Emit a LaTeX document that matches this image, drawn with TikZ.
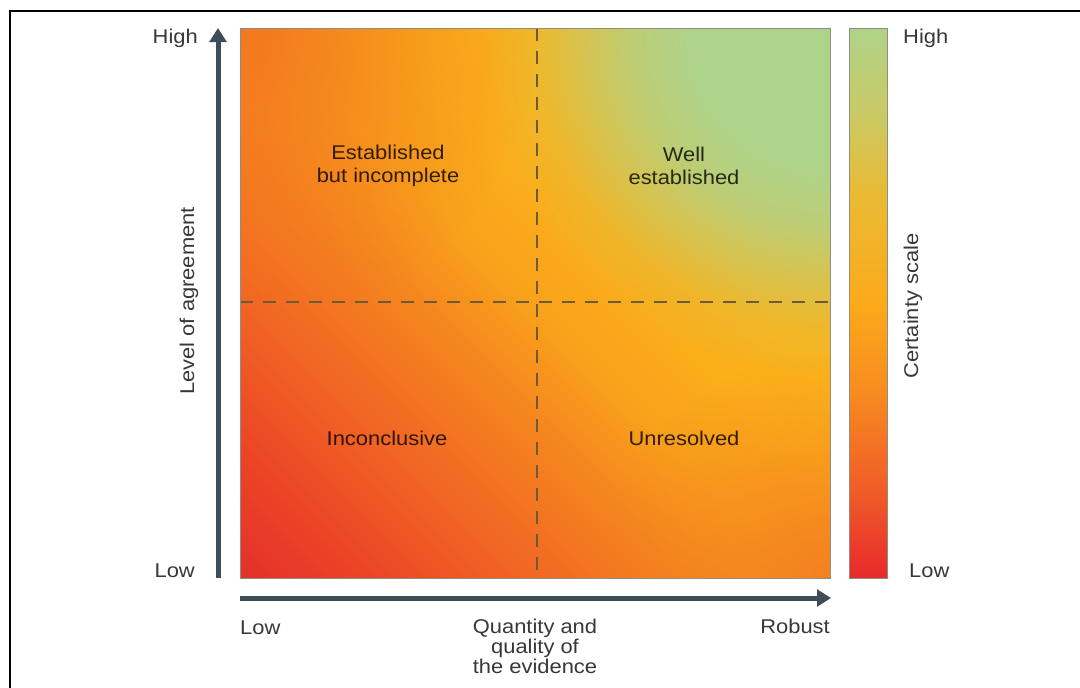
\documentclass[tikz,border=0pt]{standalone}
\usepackage{fontspec}
\setmainfont{Liberation Sans}[FakeStretch=1.1]
\usetikzlibrary{arrows.meta,fadings}
\definecolor{g0}{HTML}{E5302B}
\definecolor{g1}{HTML}{EC4626}
\definecolor{g2}{HTML}{F16624}
\definecolor{g3}{HTML}{F5821F}
\definecolor{g4}{HTML}{F9A21B}
\definecolor{g5}{HTML}{FBAE1A}
\definecolor{g6}{HTML}{FBB41A}
\definecolor{cgreen}{HTML}{AED48C}
\definecolor{corA}{HTML}{F37620}
\definecolor{corB}{HTML}{F47E21}
\definecolor{b0}{HTML}{E8292B}
\definecolor{b1}{HTML}{F05A28}
\definecolor{b2}{HTML}{F88E1F}
\definecolor{b3}{HTML}{FBAA1A}
\definecolor{b4}{HTML}{E9BB35}
\definecolor{b5}{HTML}{C8CA66}
\definecolor{b6}{HTML}{B0D38A}
\definecolor{axiscol}{HTML}{3D4D5A}
\definecolor{labcol}{HTML}{383838}
\definecolor{dashcol}{HTML}{6E5A3A}
\definecolor{edgecol}{HTML}{8E8E82}
\pgfdeclarehorizontalshading{diagshade}{100bp}{color(0bp)=(g0); color(14.64bp)=(g0); color(23.13bp)=(g1); color(32.32bp)=(g2); color(41.51bp)=(g3); color(50bp)=(g4); color(57.07bp)=(g5); color(64.14bp)=(g6); color(100bp)=(g6)}
\pgfdeclareverticalshading{barshade}{100bp}{color(0bp)=(b0); color(25bp)=(b0); color(32.5bp)=(b1); color(42.5bp)=(b2); color(50bp)=(b3); color(60bp)=(b4); color(67.5bp)=(b5); color(75bp)=(b6); color(100bp)=(b6)}
\pgfdeclareradialshading{fadeGshade}{\pgfpointorigin}{rgb(0bp)=(1,1,1); rgb(9bp)=(1,1,1); rgb(13bp)=(0.8,0.8,0.8); rgb(16.5bp)=(0.45,0.45,0.45); rgb(19.5bp)=(0.15,0.15,0.15); rgb(23bp)=(0,0,0); rgb(50bp)=(0,0,0)}
\pgfdeclarefading{fadeGreen}{\pgfuseshading{fadeGshade}}
\pgfdeclareradialshading{fadeCshade}{\pgfpointorigin}{rgb(0bp)=(0.95,0.95,0.95); rgb(5bp)=(0.75,0.75,0.75); rgb(14bp)=(0.35,0.35,0.35); rgb(24bp)=(0,0,0); rgb(50bp)=(0,0,0)}
\pgfdeclarefading{fadeCorner}{\pgfuseshading{fadeCshade}}
\begin{document}
\begin{tikzpicture}[x=0.03cm,y=-0.03cm,
  lab/.style={font=\fontsize{17pt}{17pt}\selectfont, text=labcol, inner sep=0pt},
  quad/.style={font=\fontsize{17pt}{19.6pt}\selectfont, text=black, text opacity=0.8, align=center, inner sep=0pt},
  axisarrow/.style={draw=axiscol, line width=0.15cm, -{Triangle[length=0.42cm,width=0.5cm]}},
  divider/.style={draw=dashcol, line width=0.045cm, dash pattern=on 0.39cm off 0.3cm},
  edgeline/.style={draw=edgecol, line width=0.03cm}]
\useasboundingbox (0,0) rectangle (1080,687);
\fill[white] (0,0) rectangle (1080,687);
\draw[line width=0.06cm] (10,700) -- (10,11) -- (1090,11);
% square corners
\coordinate (sqtl) at (240,28);
\coordinate (sqtr) at (830,28);
\coordinate (sqbl) at (240,578);
\coordinate (sqbr) at (830,578);
% base gradient
\shade[shading=diagshade, shading angle=45] (sqbl) rectangle (sqtr);
\begin{scope}
  \clip (sqbl) rectangle (sqtr);
  \fill[cgreen, path fading=fadeGreen] (sqtr) circle[radius=11.4cm];
  \fill[corA, path fading=fadeCorner] (sqtl) circle[radius=9.3cm];
  \fill[corB, path fading=fadeCorner] (sqbr) circle[radius=7cm];
\end{scope}
% dividers
\coordinate (vtop) at (537,28);
\coordinate (vbot) at (537,578);
\coordinate (hleft) at (240,302);
\coordinate (hright) at (830,302);
\draw[divider] (vtop) -- (vbot);
\draw[divider] (hleft) -- (hright);
\draw[edgeline] (sqbl) rectangle (sqtr);
% certainty bar
\coordinate (cbbl) at (849,578);
\coordinate (cbtr) at (887,28);
\shade[shading=barshade] (cbbl) rectangle (cbtr);
\draw[edgeline] (cbbl) rectangle (cbtr);
% axes
\coordinate (yaxb) at (218,578);
\coordinate (yaxt) at (218,28);
\coordinate (xaxl) at (240,598);
\coordinate (xaxr) at (831,598);
\draw[axisarrow] (yaxb) -- (yaxt);
\draw[axisarrow] (xaxl) -- (xaxr);
% labels
\node[lab, anchor=base east] (yhigh) at (198,43) {High};
\node[lab, anchor=base east] (ylow) at (195,577) {Low};
\node[lab, anchor=base west] (xlow) at (240,634) {Low};
\node[lab, anchor=base east] (xrobust) at (830,633) {Robust};
\node[lab, align=center, anchor=north, font=\fontsize{17pt}{17.1pt}\selectfont] (xtitle) at (535,619) {Quantity and\\quality of\\the evidence};
\node[lab, rotate=90] (ytitle) at (189,301) {Level of agreement};
\node[lab, anchor=base west] (chigh) at (903,43) {High};
\node[lab, anchor=base west] (clow) at (909,577) {Low};
\node[lab, rotate=90] (ctitle) at (913,306) {Certainty scale};
% quadrant labels
\node[quad] (q1) at (388,166) {Established\\but incomplete};
\node[quad] (q2) at (684,166) {Well\\established};
\node[quad] (q3) at (387,438) {Inconclusive};
\node[quad] (q4) at (684,438) {Unresolved};
\end{tikzpicture}
\end{document}
